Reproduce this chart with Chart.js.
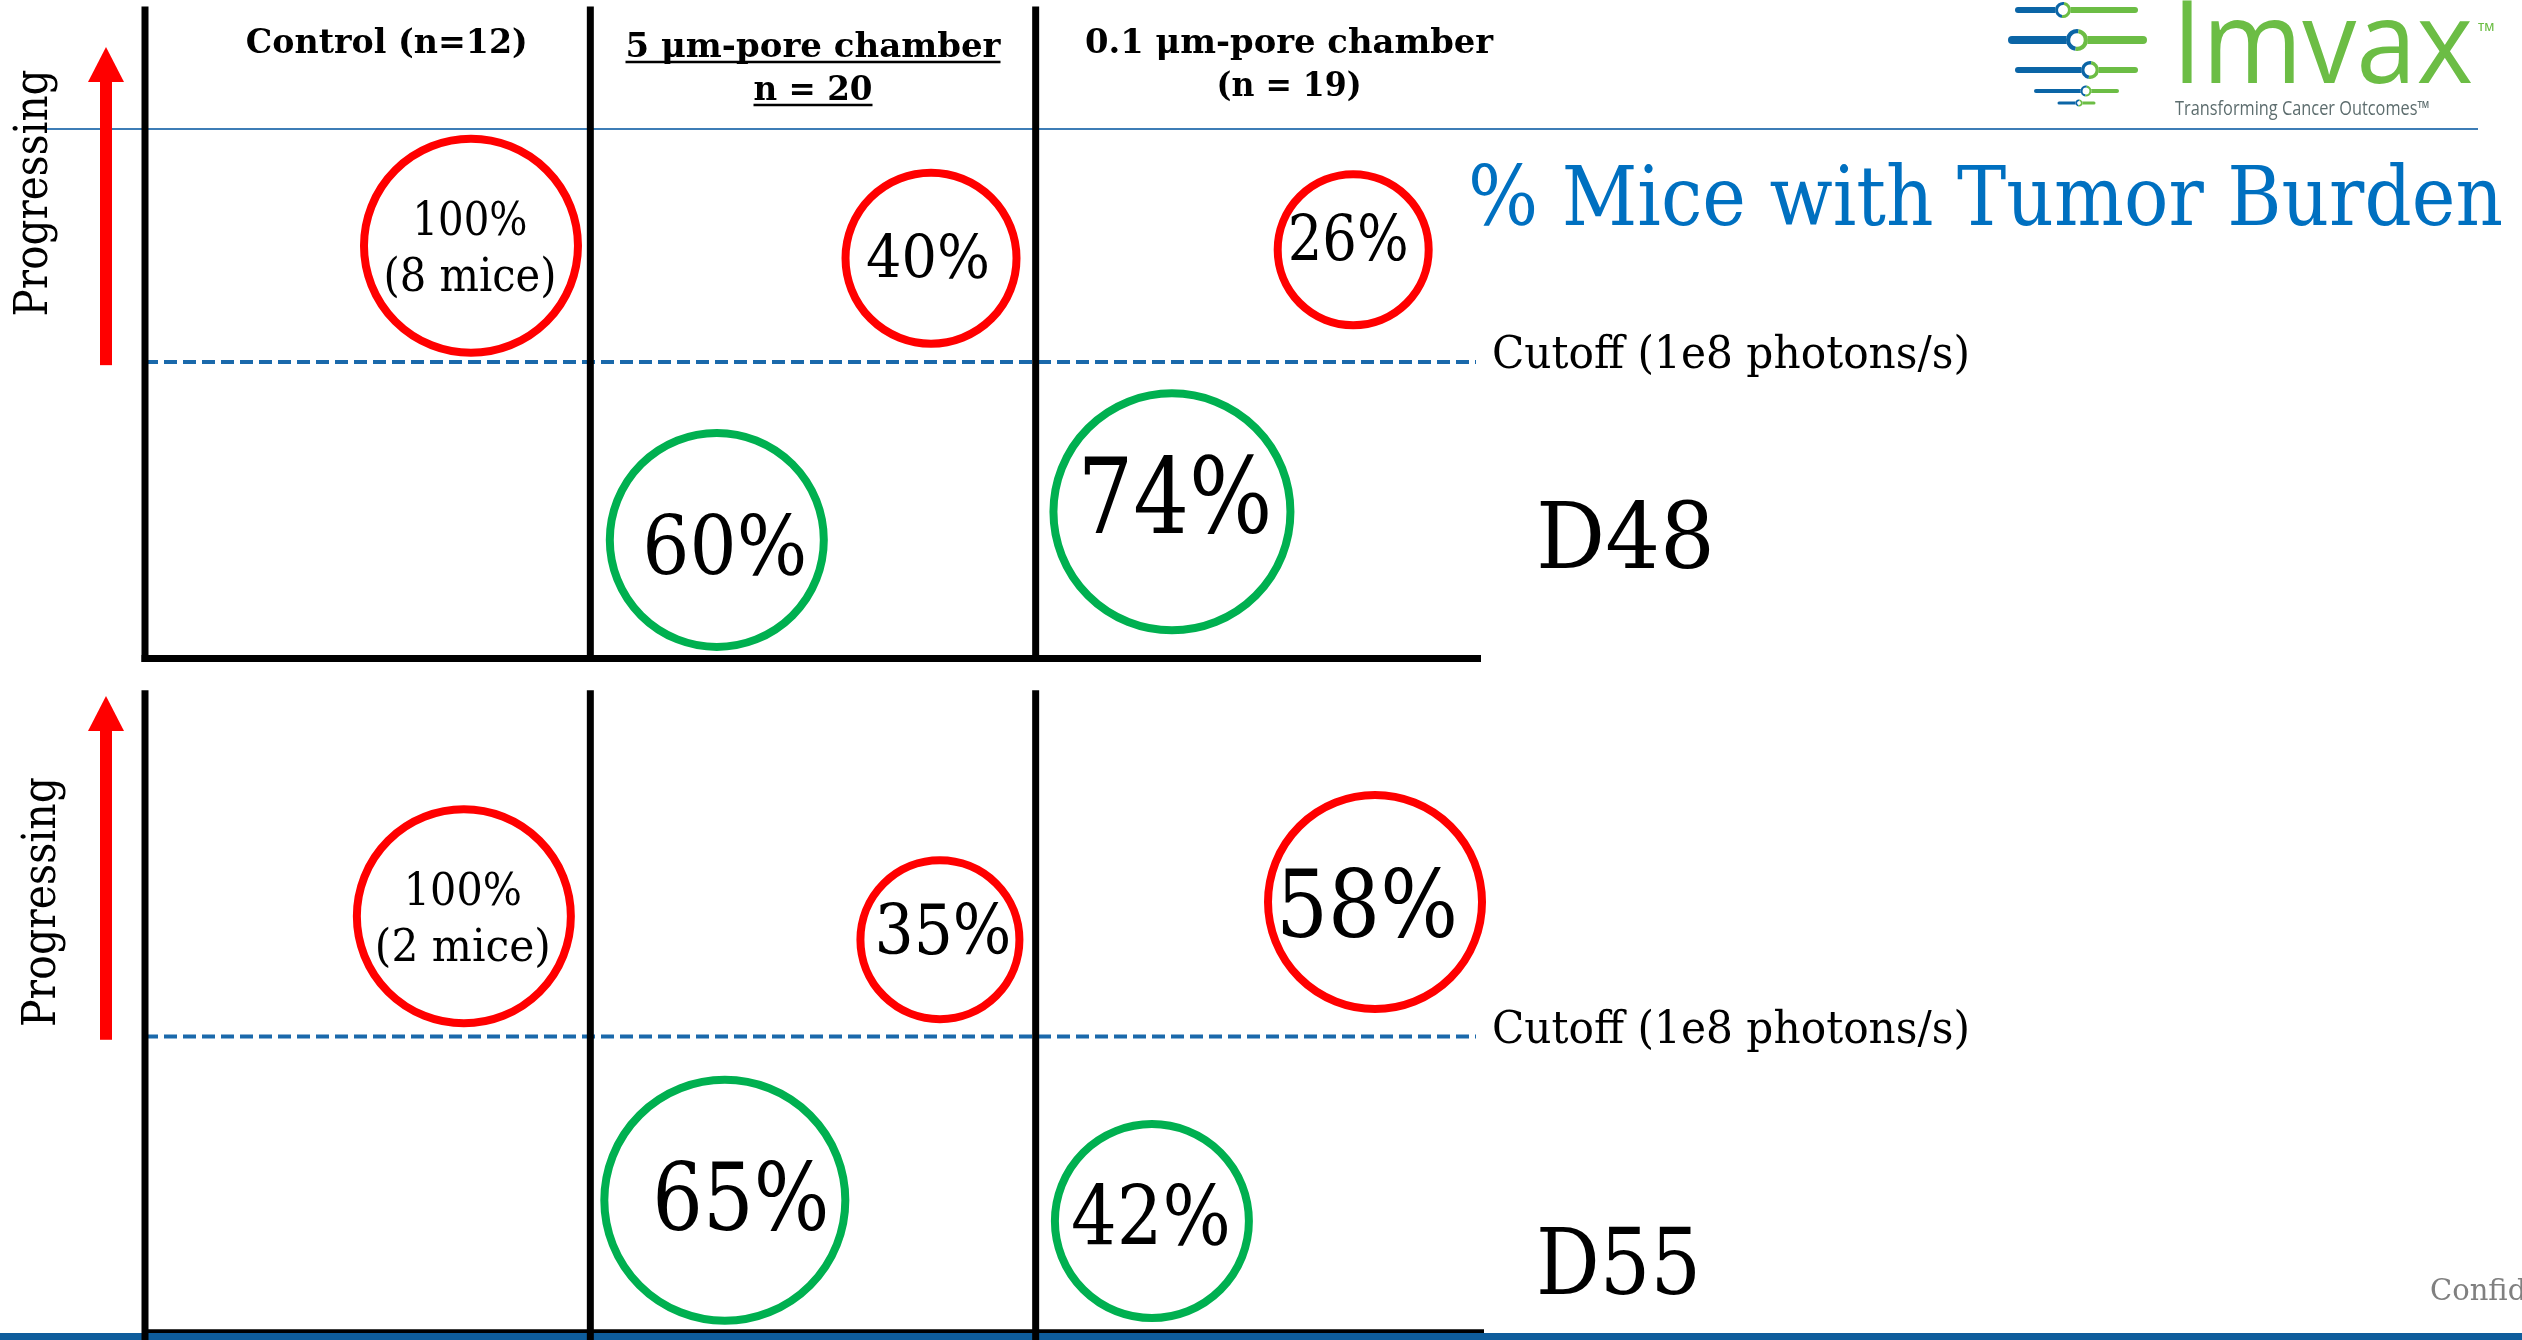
<!DOCTYPE html>
<html>
<head>
<meta charset="utf-8">
<title>% Mice with Tumor Burden</title>
<script src="https://cdn.jsdelivr.net/npm/chart.js@4.4.1/dist/chart.umd.min.js"></script>
<style>
  html, body { margin: 0; padding: 0; background: #fff; overflow: hidden; }
  canvas { display: block; }
</style>
</head>
<body>
<canvas id="burdenChart" width="2522" height="1340"></canvas>
<script>
// groups and their sizes
const groups = ['Control', '5 μm-pore chamber', '0.1 μm-pore chamber'];
const groupSizes = [12, 20, 19];
const days = ['D48', 'D55'];

// % of mice above / below the imaging cutoff, per group
const aboveCutoffD48 = [100, 40, 26];
const belowCutoffD48 = [null, 60, 74];
const aboveCutoffD55 = [100, 35, 58];
const belowCutoffD55 = [null, 65, 42];
const controlMice = [8, 2];

const cutoffText = 'Cutoff (1e8 photons/s)';
const cutoffLevel = 4.55;   // schematic signal scale, 0-10 per panel

// where each circle sits inside its column, and how big it is drawn
// dx: offset from the column's left edge, y: level, r: radius,
// font / fit: label size and width, lx / ly: label nudge in px
const spotsD48 = {
  above: [
    { dx: 0.732, y: 6.33, r: 107, font: 47, fit: [115, 173], lx: -1, ly: [-11, 45] },
    { dx: 0.765, y: 6.14, r: 85.5, font: 60, fit: [124], lx: -3, ly: [20] },
    { dx: 0.713, y: 6.27, r: 75.5, font: 63, fit: [121], lx: -5, ly: [11] }
  ],
  below: [
    null,
    { dx: 0.284, y: 1.82, r: 107, font: 82, fit: [165], lx: 8, ly: [35] },
    { dx: 0.306, y: 2.25, r: 118.5, font: 105, fit: [195], lx: 3, ly: [21] }
  ]
};
const spotsD55 = {
  above: [
    { dx: 0.716, y: 6.40, r: 107, font: 44, fit: [118, 176], lx: -1, ly: [-11, 45] },
    { dx: 0.785, y: 6.04, r: 79.5, font: 69, fit: [137], lx: 3, ly: [14] },
    { dx: 0.762, y: 6.62, r: 107, font: 94, fit: [182], lx: -8, ly: [35] }
  ],
  below: [
    null,
    { dx: 0.302, y: 2.03, r: 120.5, font: 94, fit: [177], lx: 16, ly: [30] },
    { dx: 0.261, y: 1.71, r: 97, font: 82, fit: [160], lx: -1, ly: [24] }
  ]
};

const RED = '#ff0000';
const GREEN = '#00b050';
const CUT_BLUE = '#1a69ab';
const SERIF = '"DejaVu Serif", "Liberation Serif", serif';

function bubbles(label, values, spots, axis, colour, day) {
  const data = [];
  values.forEach((v, i) => {
    if (v == null) return;
    const s = spots[i];
    data.push({ x: i + s.dx, y: s.y, r: s.r, value: v, group: i, spot: s, day });
  });
  return {
    label, data, yAxisID: axis,
    borderColor: colour, backgroundColor: 'rgba(255,255,255,0)',
    borderWidth: 8, clip: false
  };
}

const datasets = [
  bubbles('D48 progressing', aboveCutoffD48, spotsD48.above, 'yD48', RED, 0),
  bubbles('D48 below cutoff', belowCutoffD48, spotsD48.below, 'yD48', GREEN, 0),
  bubbles('D55 progressing', aboveCutoffD55, spotsD55.above, 'yD55', RED, 1),
  bubbles('D55 below cutoff', belowCutoffD55, spotsD55.below, 'yD55', GREEN, 1)
];

// column headers
const headerLines = [
  [`${groups[0]} (n=${groupSizes[0]})`],
  [groups[1], `n = ${groupSizes[1]}`],
  [groups[2], `(n = ${groupSizes[2]})`]
];
const headerX = [0.543, 1.5, 2.569];
const headerBase = [[53], [57, 100], [53, 96]];
const headerFit = [[282], [375, 119], [408, 145]];
const headerUnderline = [false, true, false];

// per-panel geometry on the schematic scale
const panelAxes = ['yD48', 'yD55'];
const panelTop = [10, 9.88];
const panelFloor = [0, -0.12];
const arrowTip = [9.38, 9.79];
const arrowBase = 4.5;
const progressLevel = [7.14, 6.62];
const progressX = [-98, -90];
const progressFit = [247, 250];
const dayLevel = [1.39, 0.59];
const dayFit = [179, 165];

function txt(ctx, s, x, y, font, colour, align, maxW) {
  ctx.font = font;
  ctx.fillStyle = colour;
  ctx.textAlign = align;
  ctx.textBaseline = 'alphabetic';
  if (maxW) ctx.fillText(s, x, y, maxW); else ctx.fillText(s, x, y);
  return Math.min(ctx.measureText(s).width, maxW || Infinity);
}

function seg(ctx, x0, y0, x1, y1, w, colour) {
  ctx.beginPath();
  ctx.moveTo(x0, y0);
  ctx.lineTo(x1, y1);
  ctx.lineWidth = w;
  ctx.strokeStyle = colour;
  ctx.stroke();
}

// slider icon rows: y, left end, knob, right end, knob radius, bar width
const sliderRows = [
  [10, 2018, 2063, 2135, 8, 6],
  [40, 2012, 2077, 2143, 11, 8],
  [70, 2018, 2090, 2135, 9, 6],
  [91, 2036, 2086, 2117, 5.5, 4],
  [103, 2059, 2079, 2094, 3.5, 3]
];

function drawLogo(ctx) {
  const blue = '#0b65a6', green = '#6cbd45';
  ctx.save();
  sliderRows.forEach(([y, x0, xk, x1, r, w]) => {
    ctx.lineCap = 'round';
    seg(ctx, x0, y, xk, y, w, blue);
    seg(ctx, xk, y, x1, y, w, green);
    ctx.beginPath();
    ctx.arc(xk, y, r, 0, Math.PI * 2);
    ctx.fillStyle = '#fff';
    ctx.fill();
    const t = Math.max(1.6, r * 0.38);
    ctx.lineCap = 'butt';
    ctx.lineWidth = t;
    ctx.beginPath();
    ctx.arc(xk, y, r - t / 2, Math.PI * 0.55, Math.PI * 1.55);
    ctx.strokeStyle = blue;
    ctx.stroke();
    ctx.beginPath();
    ctx.arc(xk, y, r - t / 2, Math.PI * 1.55, Math.PI * 2.55);
    ctx.strokeStyle = green;
    ctx.stroke();
  });
  txt(ctx, 'Imvax', 2172, 83, '400 116px "Open Sans", sans-serif', green, 'left', 301);
  txt(ctx, 'TM', 2478, 31, '600 11px "Open Sans", sans-serif', green, 'left');
  txt(ctx, 'Transforming Cancer Outcomes™', 2175, 115, '400 20px "Open Sans", sans-serif', '#5d6d6e', 'left', 255);
  ctx.restore();
}

const slideArt = {
  id: 'slideArt',
  beforeDatasetsDraw(chart) {
    const { ctx, chartArea: area, scales } = chart;
    const xs = scales.x;
    ctx.save();

    // slide chrome
    seg(ctx, 45, 129, 2478, 129, 2, '#3d7db6');
    drawLogo(ctx);
    txt(ctx, '% Mice with Tumor Burden', 1468, 225, `82px ${SERIF}`, '#0070c0', 'left', 1035);
    txt(ctx, 'Confidential', 2430, 1300, `29px ${SERIF}`, '#808080', 'left');

    // headers
    headerLines.forEach((lines, g) => {
      const cx = xs.getPixelForValue(headerX[g]);
      lines.forEach((s, k) => {
        const base = headerBase[g][k];
        const w = txt(ctx, s, cx, base, `bold 34px ${SERIF}`, '#000', 'center', headerFit[g][k]);
        if (headerUnderline[g]) seg(ctx, cx - w / 2, base + 5, cx + w / 2, base + 5, 2.5, '#000');
      });
    });

    panelAxes.forEach((axis, p) => {
      const ys = scales[axis];
      const top = ys.getPixelForValue(panelTop[p]);
      const floor = ys.getPixelForValue(0);
      const cut = ys.getPixelForValue(cutoffLevel);

      // cutoff
      ctx.setLineDash([13, 6]);
      seg(ctx, area.left, cut, area.right - 5, cut, 4, CUT_BLUE);
      ctx.setLineDash([]);
      txt(ctx, cutoffText, area.right + 11, cut + 6, `44px ${SERIF}`, '#000', 'left', 478);

      // day label
      txt(ctx, days[p], area.right + 55, ys.getPixelForValue(dayLevel[p]), `92px ${SERIF}`, '#000', 'left', dayFit[p]);

      // frame: baseline then column dividers
      if (p === 1) {
        seg(ctx, area.left - 3, floor, area.right + 3, floor, 6, '#000');
        ctx.fillStyle = '#0e5d9c';
        ctx.fillRect(0, 1333, chart.width, 7);
      } else {
        seg(ctx, area.left - 3.5, floor, area.right, floor, 7, '#000');
      }
      const bottom = ys.getPixelForValue(panelFloor[p]) + (p === 0 ? 3.5 : 0);
      [0, 1, 2].forEach(v => {
        const x = xs.getPixelForValue(v);
        seg(ctx, x, top, x, bottom, 7, '#000');
      });

      // progressing arrow
      const ax = area.left - 39;
      const tip = ys.getPixelForValue(arrowTip[p]);
      const base = ys.getPixelForValue(arrowBase);
      ctx.fillStyle = RED;
      ctx.fillRect(ax - 6, tip + 34, 12, base - tip - 34);
      ctx.beginPath();
      ctx.moveTo(ax, tip);
      ctx.lineTo(ax + 18, tip + 35);
      ctx.lineTo(ax - 18, tip + 35);
      ctx.closePath();
      ctx.fill();

      ctx.save();
      ctx.translate(area.left + progressX[p], ys.getPixelForValue(progressLevel[p]));
      ctx.rotate(-Math.PI / 2);
      txt(ctx, 'Progressing', 0, 0, `46px ${SERIF}`, '#000', 'center', progressFit[p]);
      ctx.restore();
    });

    ctx.restore();
  },
  afterDatasetsDraw(chart) {
    const { ctx } = chart;
    ctx.save();
    chart.data.datasets.forEach((ds, d) => {
      const meta = chart.getDatasetMeta(d);
      ds.data.forEach((pt, i) => {
        const el = meta.data[i];
        const s = pt.spot;
        const lines = [`${pt.value}%`];
        if (pt.group === 0) lines.push(`(${controlMice[pt.day]} mice)`);
        lines.forEach((line, k) => {
          txt(ctx, line, el.x + s.lx, el.y + s.ly[k], `${s.font}px ${SERIF}`, '#000', 'center', s.fit[k]);
        });
      });
    });
    ctx.restore();
  }
};

new Chart(document.getElementById('burdenChart'), {
  type: 'bubble',
  data: { datasets },
  options: {
    responsive: false,
    animation: false,
    events: [],
    layout: { autoPadding: false, padding: { left: 145, right: 1041, top: 0, bottom: 0 } },
    plugins: { legend: { display: false }, tooltip: { enabled: false } },
    scales: {
      x: { type: 'linear', min: 0, max: 3, display: false },
      yD48: { type: 'linear', position: 'left', min: -10.45, max: 10.1, display: false },
      yD55: { type: 'linear', position: 'left', min: -0.12, max: 20.5, display: false }
    }
  },
  plugins: [slideArt]
});
</script>
</body>
</html>
